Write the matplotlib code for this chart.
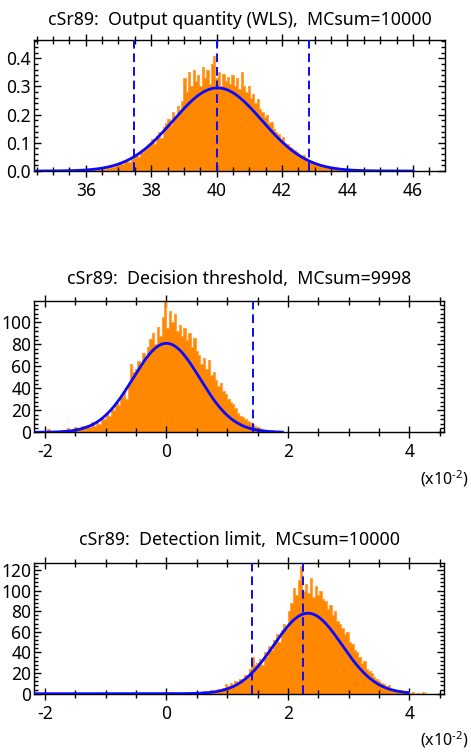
import numpy as np
import matplotlib
matplotlib.use("Agg")
import matplotlib.pyplot as plt
from matplotlib.ticker import MultipleLocator

plt.rcParams['font.family'] = ['Noto Sans', 'DejaVu Sans']
plt.rcParams['axes.unicode_minus'] = False
plt.rcParams['mathtext.fontset'] = 'custom'
plt.rcParams['mathtext.rm'] = 'Noto Sans'

# ---- panel 1: output quantity (WLS) ----
p1_title = "cSr89:  Output quantity (WLS),  MCsum=10000"
p1_start, p1_width = 35.52, 0.07
p1_heights = [  # x 1/1000
    0, 2, 0, 3, 0, 2, 4,
    3, 5, 2, 6, 8, 4, 9,
    12, 8, 15, 11, 18, 14, 22,
    26, 30, 24, 35, 38, 33, 44,
    55, 62, 50, 70, 66, 78, 92,
    100, 112, 96, 125, 140, 118, 155,
    170, 185, 162, 210, 195, 230, 215,
    250, 330, 280, 350, 300, 360, 320,
    340, 300, 370, 330, 360, 310, 380,
    410, 330, 350, 300, 345, 320, 335,
    310, 340, 300, 330, 290, 350, 300,
    280, 300, 260, 275, 240, 255, 220,
    210, 190, 200, 170, 175, 150, 140,
    130, 115, 120, 100, 95, 85, 80,
    75, 68, 60, 52, 58, 45, 40,
    36, 30, 28, 24, 20, 22, 15,
    14, 12, 10, 11, 7, 9, 5,
    6, 4, 5, 2, 4, 3, 2,
    2, 0, 3, 1, 2, 0, 4,
    0, 2, 0, 1, 0, 3, 0,
    1, 0, 0, 2, 0, 0, 0, 1, 0, 0]
p1_fit = dict(peak=0.295, mean=40.03, sigma=1.36, lo=34.45, hi=46.0)
p1_vlines = [37.47, 40.0, 42.82]
p1_xlim, p1_ylim = (34.42, 46.98), (0, 0.465)

# ---- panel 2: decision threshold ----
p2_title = "cSr89:  Decision threshold,  MCsum=9998"
p2_start, p2_width = -1.98, 0.04
p2_heights = [
    0, 3, 0, 0, 0, 1, 0,
    2, 0, 4, 1, 3, 5, 2,
    4, 6, 3, 7, 5, 9, 6,
    10, 8, 14, 12, 18, 15, 22,
    20, 28, 25, 32, 38, 30, 45,
    62, 55, 58, 65, 60, 72, 68,
    78, 85, 90, 80, 96, 88, 105,
    120, 95, 110, 100, 108, 92, 98,
    88, 95, 84, 90, 78, 86, 74,
    70, 62, 68, 58, 66, 52, 55,
    48, 42, 45, 38, 35, 30, 28,
    26, 22, 18, 15, 14, 12, 10,
    9, 8, 6, 5, 4, 3, 2,
    2, 1, 2, 0, 1, 0, 0]
p2_fit = dict(peak=81.0, mean=0.0, sigma=0.55, lo=-2.18, hi=1.91)
p2_vlines = [1.43]
p2_xlim, p2_ylim = (-2.18, 4.57), (0, 119.5)

# ---- panel 3: detection limit ----
p3_title = "cSr89:  Detection limit,  MCsum=10000"
p3_start, p3_width = 0.10, 0.04
p3_heights = [
    2, 0, 0, 0, 0, 1, 0,
    0, 1, 0, 2, 0, 1, 3,
    2, 1, 4, 2, 3, 5, 4,
    6, 9, 7, 10, 8, 12, 10,
    14, 12, 18, 16, 24, 36, 28,
    30, 34, 28, 40, 36, 46, 42,
    52, 58, 50, 62, 68, 64, 80,
    88, 102, 96, 110, 124, 100, 106,
    98, 112, 94, 104, 96, 100, 92,
    90, 82, 86, 76, 80, 70, 68,
    64, 58, 60, 50, 48, 42, 40,
    36, 30, 32, 24, 22, 20, 16,
    14, 12, 10, 9, 7, 8, 5,
    5, 4, 3, 4, 2, 3, 2,
    1, 2, 0, 1, 0, 2, 1,
    0]
p3_fit = dict(peak=78.0, mean=2.33, sigma=0.56, lo=-2.18, hi=3.98)
p3_vlines = [1.417, 2.25]
p3_xlim, p3_ylim = (-2.18, 4.57), (0, 127)

orange = '#ff8800'
orange_edge = '#ffa448'
blue = '#0a0aff'

fig = plt.figure(figsize=(4.71, 7.55), dpi=100)


def panel(rect, title, start, width, heights, scale, fit, vlines, xlim, ylim,
          xmajor, xminor, ymajor, yminor, yfmt, exp_label, title_pad):
    ax = fig.add_axes(rect)
    h = np.array(heights, dtype=float) * scale
    edges = start - width / 2 + width * np.arange(len(h) + 1)
    ax.stairs(h, edges, fill=True, color=orange, lw=0, zorder=1)
    ax.stairs(h, edges, color=orange_edge, lw=0.8, zorder=2)
    # fitted normal curve
    xs = np.linspace(fit['lo'], fit['hi'], 600)
    ys = fit['peak'] * np.exp(-(xs - fit['mean']) ** 2 / (2 * fit['sigma'] ** 2))
    ax.plot(xs, ys, color=blue, lw=2.0, zorder=3)
    for v in vlines:
        ax.axvline(v, color=blue, lw=1.4, ls=(0, (4.5, 2.5)), zorder=4)
    ax.set_xlim(*xlim)
    ax.set_ylim(*ylim)
    ax.set_title(title, fontsize=12.8, pad=title_pad)
    ax.xaxis.set_major_locator(MultipleLocator(xmajor))
    ax.xaxis.set_minor_locator(MultipleLocator(xminor))
    ax.yaxis.set_major_locator(MultipleLocator(ymajor))
    ax.yaxis.set_minor_locator(MultipleLocator(yminor))
    ax.yaxis.set_major_formatter(yfmt)
    ax.tick_params(axis='both', which='both', top=True, right=True,
                   direction='in', labelsize=12.5, width=1.0)
    ax.tick_params(axis='x', which='both', direction='inout')
    ax.tick_params(axis='x', which='major', length=8, pad=4)
    ax.tick_params(axis='x', which='minor', length=6)
    ax.tick_params(axis='y', which='major', length=5, pad=2)
    ax.tick_params(axis='y', which='minor', length=3)
    for s in ax.spines.values():
        s.set_linewidth(1.0)
    if exp_label:
        ax.text(1.0, -0.35, '(x10$^{\\mathrm{\u2010 2}}$)', transform=ax.transAxes,
                ha='center', va='center', fontsize=11.5)
    return ax


panel([0.0722, 0.7735, 0.8726, 0.1735], p1_title, p1_start, p1_width,
      p1_heights, 0.001, p1_fit, p1_vlines, p1_xlim, p1_ylim,
      2, 0.5, 0.1, 0.02, '{x:.1f}', False, 11)
panel([0.0722, 0.4274, 0.8705, 0.1739], p2_title, p2_start, p2_width,
      p2_heights, 1.0, p2_fit, p2_vlines, p2_xlim, p2_ylim,
      2, 0.5, 20, 4, '{x:.0f}', True, 12.5)
panel([0.0722, 0.0812, 0.8705, 0.1735], p3_title, p3_start, p3_width,
      p3_heights, 1.0, p3_fit, p3_vlines, p3_xlim, p3_ylim,
      2, 0.5, 20, 4, '{x:.0f}', True, 13)

fig.savefig('out.png', dpi=100)
